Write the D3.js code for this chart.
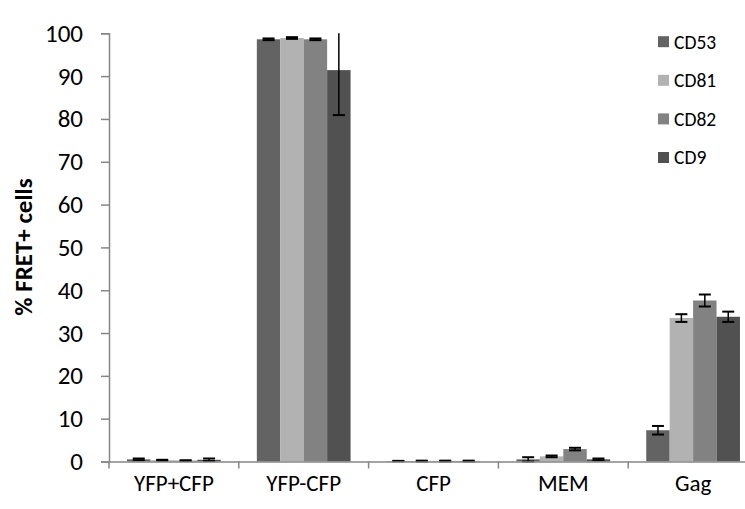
<!DOCTYPE html>
<html>
<head>
<meta charset="utf-8">
<script src="https://cdn.jsdelivr.net/npm/d3@7"></script>
<style>
  html, body { margin: 0; padding: 0; background: #fff; }
  svg { display: block; font-family: Carlito, Lato, "Open Sans", sans-serif; }
</style>
</head>
<body>
<svg id="chart" width="745" height="509"></svg>
<script>
const categories = ["YFP+CFP", "YFP-CFP", "CFP", "MEM", "Gag"];
const seriesNames = ["CD53", "CD81", "CD82", "CD9"];
const seriesColors = ["#636363", "#b2b2b2", "#828282", "#515151"];
const CD53 = [0.5, 98.6, 0.1, 0.5, 7.3];
const CD81 = [0.3, 98.9, 0.1, 1.2, 33.5];
const CD82 = [0.2, 98.6, 0.1, 2.9, 37.6];
const CD9  = [0.4, 91.4, 0.1, 0.5, 33.8];
const CD53err = [0.2, 0.2, 0.05, 0.5, 1.0];
const CD81err = [0.1, 0.2, 0.1, 0.2, 0.9];
const CD82err = [0.1, 0.2, 0.1, 0.3, 1.4];
const CD9err  = [0.3, 10.5, 0.1, 0.2, 1.2];
const yTicks = [0, 10, 20, 30, 40, 50, 60, 70, 80, 90, 100];
const yTitle = "% FRET+ cells";

const values = [CD53, CD81, CD82, CD9];
const errors = [CD53err, CD81err, CD82err, CD9err];

const svg = d3.select("#chart");
const left = 109, zeroY = 461.5, topY = 33.3, step = 129.8;

const x0 = d3.scaleBand().domain(categories).range([left, left + step * categories.length]).padding(0);
const x1 = d3.scaleBand().domain(seriesNames).range([0, x0.bandwidth()]).paddingInner(0).paddingOuter(0.77);
const y = d3.scaleLinear().domain([0, 100]).range([zeroY, topY]);

// bars
const data = [];
categories.forEach((c, i) => seriesNames.forEach((s, j) => {
  data.push({ c, s, j, v: values[j][i], e: errors[j][i] });
}));

svg.append("g").selectAll("rect").data(data).join("rect")
  .attr("x", d => x0(d.c) + x1(d.s))
  .attr("y", d => y(d.v))
  .attr("width", x1.bandwidth())
  .attr("height", d => y(0) - y(d.v))
  .attr("fill", d => seriesColors[d.j]);

// error bars
const eg = svg.append("g").attr("stroke", "#000").attr("stroke-width", 2);
data.forEach(d => {
  const cx = x0(d.c) + x1(d.s) + x1.bandwidth() / 2;
  const hi = Math.min(100, d.v + d.e), lo = Math.max(0, d.v - d.e);
  eg.append("line").attr("x1", cx).attr("x2", cx).attr("y1", y(hi)).attr("y2", y(lo)).attr("stroke-width", 1.5);
  if (d.v + d.e <= 100) eg.append("line").attr("x1", cx - 6).attr("x2", cx + 6).attr("y1", y(hi)).attr("y2", y(hi));
  eg.append("line").attr("x1", cx - 6).attr("x2", cx + 6).attr("y1", y(lo)).attr("y2", y(lo));
});

// y axis
const yAxis = d3.axisLeft(y).tickValues(yTicks).tickSize(8).tickPadding(18).tickFormat(d3.format("d"));
const gy = svg.append("g").attr("transform", `translate(${left},0)`).call(yAxis);
gy.select(".domain").attr("stroke", "#868686").attr("stroke-width", 1.5);
gy.selectAll(".tick line").attr("stroke", "#868686").attr("stroke-width", 1.5);
gy.selectAll(".tick text").attr("font-size", 25).attr("fill", "#000").attr("font-family", "Carlito, Lato, sans-serif");

// x axis
const xAxis = d3.axisBottom(x0).tickSize(0).tickPadding(13);
const gx = svg.append("g").attr("transform", `translate(0,${zeroY})`).call(xAxis);
gx.select(".domain").attr("stroke", "#868686").attr("stroke-width", 1.5);
gx.selectAll(".tick text").attr("font-size", 23).attr("fill", "#000").attr("font-family", "Carlito, Lato, sans-serif");
// category separator ticks
svg.append("g").selectAll("line").data(categories).join("line")
  .attr("x1", d => x0(d) + x0.bandwidth()).attr("x2", d => x0(d) + x0.bandwidth())
  .attr("y1", zeroY).attr("y2", zeroY + 7)
  .attr("stroke", "#868686").attr("stroke-width", 1.5);
svg.append("line").attr("x1", left).attr("x2", left).attr("y1", zeroY).attr("y2", zeroY + 7)
  .attr("stroke", "#868686").attr("stroke-width", 1.5);

// y title
svg.append("text")
  .attr("transform", `translate(32,247) rotate(-90)`)
  .attr("text-anchor", "middle")
  .attr("font-size", 25).attr("font-weight", "bold")
  .text(yTitle);

// legend
const lg = svg.append("g");
seriesNames.forEach((s, j) => {
  const cy = 41.7 + j * 38.6;
  lg.append("rect").attr("x", 658).attr("y", cy - 5.5).attr("width", 11).attr("height", 11).attr("fill", seriesColors[j]);
  lg.append("text").attr("x", 674).attr("y", cy).attr("dy", "0.35em").attr("font-size", 19.5).text(s);
});
</script>
</body>
</html>
